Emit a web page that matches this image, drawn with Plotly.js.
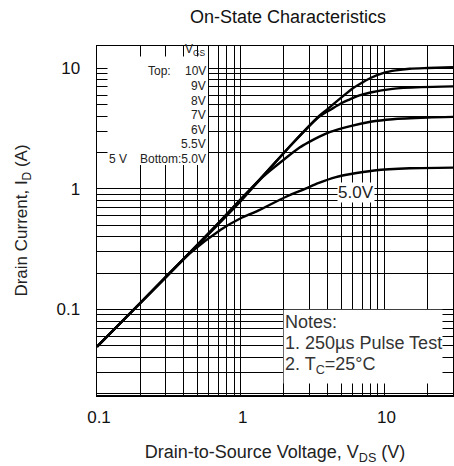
<!DOCTYPE html>
<html>
<head>
<meta charset="utf-8">
<script src="https://cdn.plot.ly/plotly-3.0.1.min.js"></script>
<style>html,body{margin:0;padding:0;background:#fff;}#chart{width:454px;height:466px;}</style>
</head>
<body>
<div id="chart"></div>
<script>
// Curve data (VDS in V, ID in A)
var vdsTop = [0.1, 0.2, 0.4, 0.7, 1, 1.36, 2.31, 3.5, 3.94, 5, 6, 7, 8, 10, 12, 15, 20, 30];
var idTop  = [0.049, 0.113, 0.262, 0.52, 0.82, 1.2, 2.4, 4.0, 4.5, 5.7, 6.8, 7.6, 8.3, 9.2, 9.6, 9.9, 10.05, 10.2];

var vdsSecond = [0.1, 0.2, 0.4, 0.7, 1, 1.36, 2.31, 3.5, 4.3, 5.13, 5.7, 6.7, 8, 11.4, 18, 30];
var idSecond  = [0.049, 0.113, 0.262, 0.52, 0.82, 1.2, 2.4, 3.95, 4.6, 5.2, 5.5, 5.95, 6.3, 6.75, 6.97, 7.07];

var vdsThird = [0.1, 0.2, 0.4, 0.7, 1, 1.42, 2, 2.57, 3, 3.5, 4.15, 5.7, 8, 11.4, 20, 30];
var idThird  = [0.049, 0.113, 0.26, 0.51, 0.79, 1.25, 1.75, 2.2, 2.45, 2.7, 2.95, 3.3, 3.6, 3.78, 3.9, 3.95];

var vdsBottom = [0.1, 0.2, 0.3, 0.44, 0.73, 1, 1.29, 2.07, 2.8, 3.5, 4.6, 5.7, 8.5, 15, 30];
var idBottom  = [0.049, 0.113, 0.185, 0.29, 0.46, 0.57, 0.65, 0.86, 1.0, 1.12, 1.25, 1.32, 1.42, 1.48, 1.5];

// Tick labels
var xTickVals = [0.1, 1, 10];
var xTickText = ['0.1', '1', '10'];
var yTickVals = [0.1, 1, 10];
var yTickText = ['0.1', '1', '10'];
var minorDigits = [2, 3, 4, 5, 6, 7, 8, 9];

// Legend texts
var vgsLevels = ['10V', '9V', '8V', '7V', '6V', '5.5V'];

function minorVals(decades, lo, hi) {
  var out = [];
  decades.forEach(function (d) {
    minorDigits.forEach(function (m) {
      var v = m * d;
      if (v >= lo && v <= hi) out.push(v);
    });
  });
  return out;
}

var FONT = 'Liberation Sans, Arial, sans-serif';
var lineStyle = {color: '#000', width: 2.4, shape: 'spline', smoothing: 0.8};

var traces = [
  {x: vdsTop, y: idTop, name: 'Top', mode: 'lines', line: lineStyle},
  {x: vdsSecond, y: idSecond, name: 'Second', mode: 'lines', line: lineStyle},
  {x: vdsThird, y: idThird, name: 'Third', mode: 'lines', line: lineStyle},
  {x: vdsBottom, y: idBottom, name: '5.0V', mode: 'lines', line: lineStyle}
];

var axisCommon = {
  type: 'log',
  showline: true, linecolor: '#000', linewidth: 1.5, mirror: 'ticks',
  ticks: 'inside', ticklen: 10, tickcolor: '#000', tickwidth: 1,
  showgrid: true, gridcolor: '#000', gridwidth: 1,
  zeroline: false,
  tickmode: 'array',
  tickfont: {family: FONT, size: 17, color: '#111'}
};

var xaxis = Object.assign({}, axisCommon, {
  range: [-1, Math.log10(30)],
  tickvals: xTickVals, ticktext: xTickText,
  ticklabelstandoff: 6, ticklabelshift: 2,
  minor: {tickmode: 'array', tickvals: minorVals([0.1, 1, 10], 0.1, 30),
          ticks: 'inside', ticklen: 10, tickcolor: '#000', showgrid: true, gridcolor: '#000', gridwidth: 1},
  title: {text: 'Drain-to-Source Voltage, V<sub>DS</sub> (V)', font: {family: FONT, size: 18, color: '#222'}, standoff: 19}
});

var yaxis = Object.assign({}, axisCommon, {
  range: [Math.log10(0.0195), Math.log10(15.3)],
  tickvals: yTickVals, ticktext: yTickText,
  ticklabelstandoff: 12, ticklabelshift: -3.5,
  minor: {tickmode: 'array', tickvals: minorVals([0.01, 0.1, 1, 10], 0.02, 15),
          ticks: 'inside', ticklen: 10, tickcolor: '#000', showgrid: true, gridcolor: '#000', gridwidth: 1},
  title: {text: 'Drain Current, I<sub>D</sub> (A)', font: {family: FONT, size: 17, color: '#222'}, standoff: 24}
});

var legFont = {family: FONT, size: 12, color: '#222'};
var legY = [71.5, 85.5, 100.5, 115, 129.5, 144];
var annotations = [];
function px2paperY(py) { return 1 - (py - 46) / (395 - 46); }
function px2paperX(px) { return (px - 97) / (453 - 97); }

annotations.push({xref: 'paper', yref: 'paper', x: px2paperX(208), y: px2paperY(50), xanchor: 'right', yanchor: 'middle',
  text: 'V<sub>GS</sub>', showarrow: false, font: legFont});
annotations.push({xref: 'paper', yref: 'paper', x: px2paperX(173), y: px2paperY(legY[0]), xanchor: 'right', yanchor: 'middle',
  text: 'Top:', showarrow: false, font: legFont});
vgsLevels.forEach(function (t, i) {
  annotations.push({xref: 'paper', yref: 'paper', x: px2paperX(208), y: px2paperY(legY[i]), xanchor: 'right', yanchor: 'middle',
    text: t, showarrow: false, font: legFont});
});
annotations.push({xref: 'paper', yref: 'paper', x: px2paperX(208), y: px2paperY(158.5), xanchor: 'right', yanchor: 'middle',
  text: 'Bottom:5.0V', showarrow: false, font: legFont});
annotations.push({xref: 'paper', yref: 'paper', x: px2paperX(107), y: px2paperY(158.5), xanchor: 'left', yanchor: 'middle',
  text: '5 V', showarrow: false, font: legFont});

var noteFont = {family: FONT, size: 18, color: '#333'};
annotations.push({xref: 'paper', yref: 'paper', x: px2paperX(283), y: px2paperY(321.5), xanchor: 'left', yanchor: 'middle',
  text: 'Notes:', showarrow: false, font: noteFont});
annotations.push({xref: 'paper', yref: 'paper', x: px2paperX(283), y: px2paperY(343), xanchor: 'left', yanchor: 'middle',
  text: '1. 250µs Pulse Test', showarrow: false, font: noteFont});
annotations.push({xref: 'paper', yref: 'paper', x: px2paperX(283), y: px2paperY(365), xanchor: 'left', yanchor: 'middle',
  text: '2. T<sub>C</sub>=25°C', showarrow: false, font: noteFont});

annotations.push({xref: 'paper', yref: 'paper', x: px2paperX(355.5), y: px2paperY(192.5), xanchor: 'center', yanchor: 'middle',
  text: '5.0V', showarrow: false, bgcolor: '#fff', borderpad: 0, font: {family: FONT, size: 17, color: '#222'}});

// White panels behind the legend and the notes (gridlines stay visible as ticks near the frame)
var shapes = [
  {type: 'rect', layer: 'above', xref: 'paper', yref: 'paper', x0: px2paperX(107.5), x1: px2paperX(208), y0: px2paperY(165), y1: px2paperY(56.5),
   fillcolor: '#fff', line: {width: 0}},
  {type: 'rect', layer: 'above', xref: 'paper', yref: 'paper', x0: px2paperX(283.6), x1: px2paperX(442.5), y0: px2paperY(383.5), y1: px2paperY(309.8),
   fillcolor: '#fff', line: {width: 0}}
];

var layout = {
  width: 454, height: 466,
  margin: {l: 97, r: 1, t: 46, b: 71, pad: 0},
  paper_bgcolor: '#fff', plot_bgcolor: '#fff',
  showlegend: false,
  title: {text: 'On-State Characteristics', font: {family: FONT, size: 18, color: '#111'},
          xref: 'paper', x: px2paperX(288), xanchor: 'center', yref: 'container', y: 1 - 17 / 466, yanchor: 'middle'},
  xaxis: xaxis, yaxis: yaxis,
  shapes: shapes, annotations: annotations
};

Plotly.newPlot('chart', traces, layout, {staticPlot: true, displayModeBar: false});
</script>
</body>
</html>
